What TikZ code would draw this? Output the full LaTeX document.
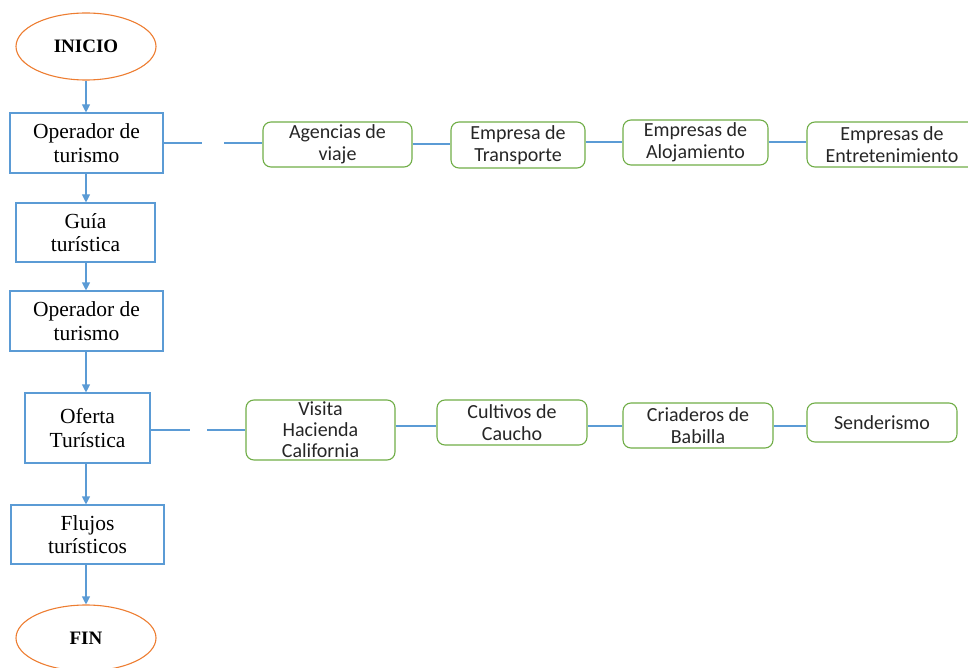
\documentclass[tikz,border=0pt]{standalone}
\usepackage{fontspec}
\setmainfont{Liberation Serif}
\newfontfamily\boxsans{Carlito}
\usetikzlibrary{arrows.meta,shapes.geometric}
\definecolor{obl}{HTML}{5B9BD5}
\definecolor{oor}{HTML}{ED7D31}
\definecolor{ogr}{HTML}{70AD47}
\definecolor{otx}{HTML}{262626}
\begin{document}
\begin{tikzpicture}[x=1pt,y=-1pt,
  term/.style={ellipse, draw=oor, line width=1.1pt, inner sep=0pt, font=\fontsize{19}{21}\selectfont\bfseries},
  proc/.style={rectangle, draw=obl, line width=1.1pt, inner sep=0pt, align=center, font=\fontsize{21.5}{23.5}\selectfont},
  item/.style={rectangle, rounded corners=8pt, draw=ogr, line width=1.1pt, inner sep=0pt, align=center, text=otx, font=\boxsans\fontsize{20}{22}\selectfont},
  flow/.style={draw=obl, line width=1.1pt, -{Triangle[length=8pt,width=8pt]}},
  link/.style={draw=obl, line width=1.1pt}]
\useasboundingbox (0,0) rectangle (968,668);
% main column
\node[term, minimum width=140pt, minimum height=67pt] (ini) at (86,46.5) {INICIO};
\node[proc, minimum width=153pt, minimum height=60pt] (op1) at (86.5,143) {Operador de\\turismo};
\node[proc, minimum width=139pt, minimum height=59pt] (guia) at (85.5,232.5) {Guía\\turística};
\node[proc, minimum width=153pt, minimum height=60pt] (op2) at (86.5,321) {Operador de\\turismo};
\node[proc, minimum width=125pt, minimum height=70pt] (ofe) at (87.5,428) {Oferta\\Turística};
\node[proc, minimum width=153pt, minimum height=59pt] (flu) at (87.5,534.5) {Flujos\\turísticos};
\node[term, minimum width=140pt, minimum height=66pt] (fin) at (86,638) {FIN};
\draw[flow] (ini.south) -- (ini.south |- op1.north);
\draw[flow] (op1.south -| ini.south) -- (ini.south |- guia.north);
\draw[flow] (guia.south -| ini.south) -- (ini.south |- op2.north);
\draw[flow] (op2.south -| ini.south) -- (ini.south |- ofe.north);
\draw[flow] (ofe.south -| ini.south) -- (ini.south |- flu.north);
\draw[flow] (flu.south -| ini.south) -- (ini.south |- fin.north);
% first row
\node[item, minimum width=149pt, minimum height=45pt] (age) at (337.5,144.5) {Agencias de\\viaje};
\node[item, minimum width=134pt, minimum height=46pt] (tra) at (518,145) {Empresa de\\Transporte};
\node[item, minimum width=145pt, minimum height=45pt] (alo) at (695.5,142.5) {Empresas de\\Alojamiento};
\node[item, minimum width=170pt, minimum height=45pt] (ent) at (892,144.5) {Empresas de\\Entretenimiento};
\coordinate (g1a) at (202,143);
\coordinate (g1b) at (224,143);
\coordinate (y1a) at (0,144);
\coordinate (y1b) at (0,142);
\draw[link] (op1.east |- g1a) -- (g1a);
\draw[link] (g1b) -- (g1b -| age.west);
\draw[link] (age.east |- y1a) -- (tra.west |- y1a);
\draw[link] (tra.east |- y1b) -- (alo.west |- y1b);
\draw[link] (alo.east |- y1b) -- (ent.west |- y1b);
% second row
\node[item, minimum width=149pt, minimum height=60pt, font=\boxsans\fontsize{20}{21}\selectfont] (vis) at (320.5,430) {Visita\\Hacienda\\California};
\node[item, minimum width=150pt, minimum height=45pt] (cul) at (512,422.5) {Cultivos de\\Caucho};
\node[item, minimum width=150pt, minimum height=45pt] (cri) at (698,425.5) {Criaderos de\\Babilla};
\node[item, minimum width=150pt, minimum height=39pt] (sen) at (882,422.5) {Senderismo};
\coordinate (g2a) at (190,430);
\coordinate (g2b) at (207,430);
\coordinate (y2) at (0,426);
\draw[link] (ofe.east |- g2a) -- (g2a);
\draw[link] (g2b) -- (vis.west |- g2b);
\draw[link] (vis.east |- y2) -- (cul.west |- y2);
\draw[link] (cul.east |- y2) -- (cri.west |- y2);
\draw[link] (cri.east |- y2) -- (sen.west |- y2);
\end{tikzpicture}
\end{document}
